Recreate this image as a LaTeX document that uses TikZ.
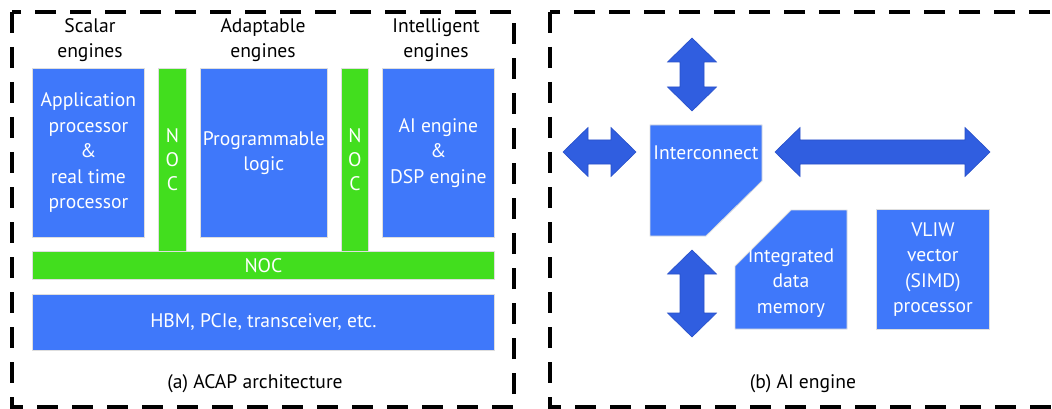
\documentclass[tikz,border=0pt]{standalone}
\usepackage{fontspec}
\setmainfont{PT Sans}
\definecolor{myblue}{RGB}{63,120,250}
\definecolor{mygreen}{RGB}{66,222,30}
\definecolor{arrblue}{RGB}{48,94,224}
\definecolor{arredge}{RGB}{40,80,200}
\definecolor{boxedge}{RGB}{222,222,222}
\newcommand{\bfnt}{\fontsize{19.6}{25.5}\selectfont}
\newcommand{\nocfnt}{\fontsize{19.6}{24}\selectfont}
\begin{document}
\begin{tikzpicture}[x=1pt,y=-1pt,
  blk/.style={fill=myblue, draw=boxedge, line width=0.8pt, text=white, inner sep=0pt, anchor=north west, align=center, font=\bfnt},
  nocbar/.style={fill=mygreen, draw=boxedge, line width=0.8pt, text=white, inner sep=0pt, anchor=north west, align=center, font=\nocfnt},
  blkshape/.style={fill=myblue, draw=boxedge, line width=0.8pt},
  intext/.style={text=white, align=center, font=\bfnt, inner sep=0pt},
  arr/.style={fill=arrblue, draw=arredge, line width=0.6pt, line join=miter},
  frame/.style={draw=black, line width=3.5pt, dash pattern=on 21pt off 14pt},
  lbl/.style={align=center, font=\bfnt, text=black, inner sep=0pt}]
\clip (0,0) rectangle (1052,409);
\fill[white] (0,0) rectangle (1052,409);
% frames
\draw[frame] (12,12) rectangle (514,407);
\draw[frame] (550,12) rectangle (1070,407);
% (a) ACAP
\node[lbl] (lscalar) at (90,40) {Scalar\\engines};
\node[lbl] (ladapt) at (263,40) {Adaptable\\engines};
\node[lbl] (lintel) at (436,40) {Intelligent\\engines};
\node[blk, minimum width=112pt, minimum height=169pt] (app) at (32,68) {Application\\processor\\\&\\real time\\processor};
\node[nocbar, minimum width=28pt, minimum height=183pt] (noc1) at (158,68) {N\\O\\C};
\node[blk, minimum width=127pt, minimum height=169pt] (pl) at (200,68) {Programmable\\logic};
\node[nocbar, minimum width=27pt, minimum height=183pt] (noc2) at (341,68) {N\\O\\C};
\node[blk, minimum width=112pt, minimum height=169pt] (ai) at (382,68) {AI engine\\\&\\DSP engine};
\node[nocbar, font=\bfnt, minimum width=462pt, minimum height=28pt] (noch) at (32,251) {NOC};
\node[blk, minimum width=462pt, minimum height=56pt] (hbm) at (32,294) {HBM, PCIe, transceiver, etc.};
\node[lbl] (capa) at (255,384) {(a) ACAP architecture};
% (b) AI engine
\path[blkshape] (650,125) -- (762,125) -- (762,181) -- (706,236) -- (650,236) -- cycle;
\node[intext] (inter) at (706,153) {Interconnect};
\path[blkshape] (735,266) -- (791,210) -- (847,210) -- (847,329) -- (735,329) -- cycle;
\node[intext] (mem) at (791,283) {Integrated\\data\\memory};
\node[blk, minimum width=113pt, minimum height=120pt] (vliw) at (876,209) {VLIW\\vector\\(SIMD)\\processor};
% double arrows
\path[arr] (563,152) -- (588,127.5) -- (588,140) -- (611,140) -- (611,127.5) -- (636,152) -- (611,176.5) -- (611,164) -- (588,164) -- (588,176.5) -- cycle;
\path[arr] (775,152) -- (800,127.5) -- (800,140) -- (965,140) -- (965,127.5) -- (990,152) -- (965,176.5) -- (965,164) -- (800,164) -- (800,176.5) -- cycle;
\path[arr] (692,38) -- (716.5,62) -- (704,62) -- (704,87) -- (716.5,87) -- (692,111) -- (667.5,87) -- (680,87) -- (680,62) -- (667.5,62) -- cycle;
\path[arr] (692,250) -- (716.5,274) -- (704,274) -- (704,313) -- (716.5,313) -- (692,337) -- (667.5,313) -- (680,313) -- (680,274) -- (667.5,274) -- cycle;
\node[lbl] (capb) at (803,384) {(b) AI engine};
\end{tikzpicture}
\end{document}
